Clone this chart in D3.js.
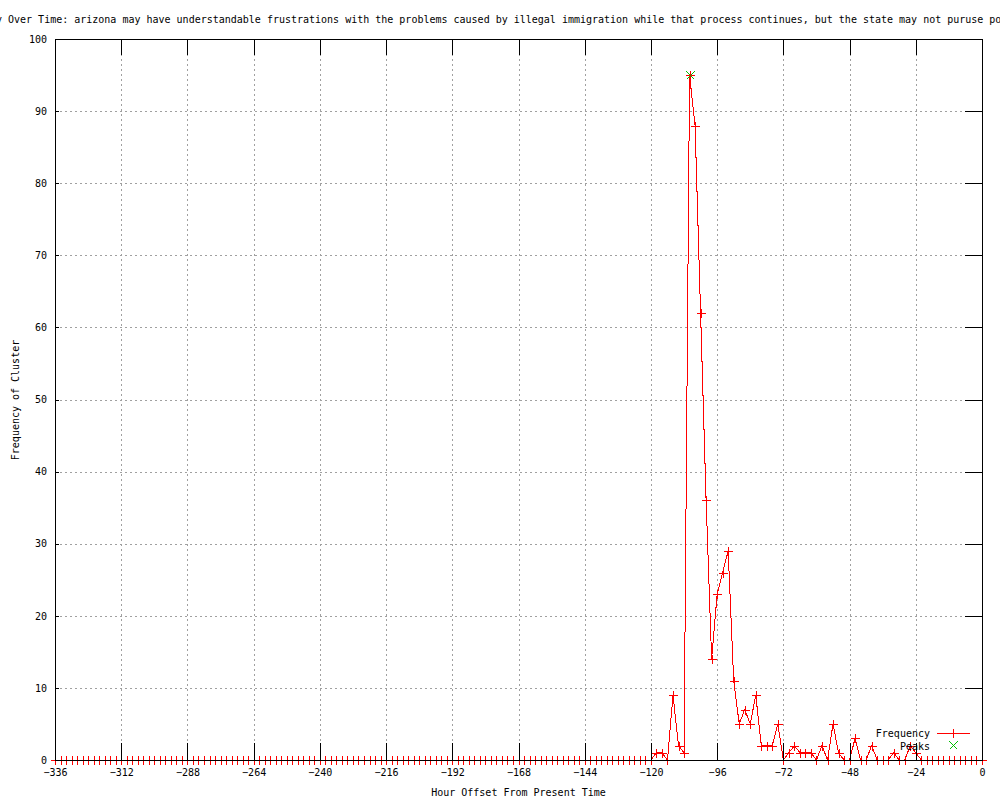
<!DOCTYPE html>
<html>
<head>
<meta charset="utf-8">
<script src="https://cdn.jsdelivr.net/npm/d3@7/dist/d3.min.js"></script>
<style>
    body { margin: 0; background: #fff; }
    #chart svg text { font-family: "DejaVu Sans Mono", monospace; font-size: 10px; fill: #000; }
    #chart svg line, #chart svg path, #chart svg rect { shape-rendering: crispEdges; }
</style>
</head>
<body>
<div id="chart"></div>
<script>
//Textos
const TITLE_PREFIX = 'Cluster Frequency ';
const TITLE = TITLE_PREFIX + 'Over Time: arizona may have understandable frustrations with the problems caused by illegal immigration while that process continues, but the state may not puruse policies that undermine federal law';
const X_LABEL = 'Hour Offset From Present Time';
const Y_LABEL = 'Frequency of Cluster';

//Datos: una muestra cada 2 horas, de -336 a 0
const hours = d3.range(-336, 1, 2);
const frequency = [
    0,0,0,0,0,0,0,0,0,0,0,0,0,0,0,0,0,0,0,0,
    0,0,0,0,0,0,0,0,0,0,0,0,0,0,0,0,0,0,0,0,
    0,0,0,0,0,0,0,0,0,0,0,0,0,0,0,0,0,0,0,0,
    0,0,0,0,0,0,0,0,0,0,0,0,0,0,0,0,0,0,0,0,
    0,0,0,0,0,0,0,0,0,0,0,0,0,0,0,0,0,0,0,0,
    0,0,0,0,0,0,0,0,0,
    1,1,0,9,2,1,95,88,62,36,14,23,26,29,11,5,7,5,9,2,
    2,2,5,0,1,2,1,1,1,0,2,0,5,1,0,0,3,0,0,2,
    0,0,0,1,0,0,2,1,
    0,0,0,0,0,0,0,0,0,0,0,0
];
const peakHours = [-106];
const peakValues = [95];

const xTicks = [-336, -312, -288, -264, -240, -216, -192, -168, -144, -120, -96, -72, -48, -24, 0];
const yTicks = [0, 10, 20, 30, 40, 50, 60, 70, 80, 90, 100];

//Colores
const COLOR_LINE = '#ff0000',
COLOR_PEAK = '#00c000',
COLOR_GRID = '#a0a0a0';

let data = hours.map(function(h, i) { return {hour: h, value: frequency[i]}; });
let peaks = peakHours.map(function(h, i) { return {hour: h, value: peakValues[i]}; });

let margin = {top: 39, right: 18, bottom: 40, left: 55},
    width = 1000 - margin.left - margin.right,
    height = 800 - margin.top - margin.bottom;

let svg = d3.select('#chart')
    .append('svg')
        .attr('width', 1000)
        .attr('height', 800)
        .style('display', 'block');

let g = svg.append('g')
    .attr('transform', 'translate(' + margin.left + ',' + margin.top + ')');

let x = d3.scaleLinear()
    .domain([-336, 0])
    .range([0, width]);

let y = d3.scaleLinear()
    .domain([0, 100])
    .range([height, 0]);

//Rejilla
g.append('g')
    .selectAll('line')
    .data(xTicks.slice(1, -1))
    .enter()
    .append('line')
    .attr('x1', function(d) { return Math.round(x(d)) + 0.5; })
    .attr('x2', function(d) { return Math.round(x(d)) + 0.5; })
    .attr('y1', 0)
    .attr('y2', height)
    .attr('stroke', COLOR_GRID)
    .attr('stroke-dasharray', '2,3');

g.append('g')
    .selectAll('line')
    .data(yTicks.slice(1, -1))
    .enter()
    .append('line')
    .attr('y1', function(d) { return Math.round(y(d)) + 0.5; })
    .attr('y2', function(d) { return Math.round(y(d)) + 0.5; })
    .attr('x1', 0)
    .attr('x2', width)
    .attr('stroke', COLOR_GRID)
    .attr('stroke-dasharray', '2,3');

//Línea de frecuencia
let line = d3.line()
    .x(function(d) { return x(d.hour); })
    .y(function(d) { return y(d.value); });

g.append('path')
    .datum(data)
    .attr('fill', 'none')
    .attr('stroke', COLOR_LINE)
    .attr('stroke-width', 1)
    .attr('d', line);

function plusPath(cx, cy) {
    return 'M' + (cx - 4.5) + ',' + cy + 'H' + (cx + 4.5) + 'M' + cx + ',' + (cy - 4.5) + 'V' + (cy + 4.5);
}
function crossPath(cx, cy) {
    return 'M' + (cx - 4) + ',' + (cy - 4) + 'L' + (cx + 4) + ',' + (cy + 4) + 'M' + (cx - 4) + ',' + (cy + 4) + 'L' + (cx + 4) + ',' + (cy - 4);
}

g.append('g')
    .selectAll('path')
    .data(data)
    .enter()
    .append('path')
    .attr('d', function(d) { return plusPath(Math.round(x(d.hour)) + 0.5, Math.round(y(d.value)) + 0.5); })
    .attr('stroke', COLOR_LINE)
    .attr('fill', 'none');

//Picos
g.append('g')
    .selectAll('path')
    .data(peaks)
    .enter()
    .append('path')
    .attr('d', function(d) { return crossPath(Math.round(x(d.hour)) + 0.5, Math.round(y(d.value)) + 0.5); })
    .attr('stroke', COLOR_PEAK)
    .attr('fill', 'none');

//Ejes
let xAxisBottom = function(sel) {
    sel.call(d3.axisBottom(x).tickValues(xTicks).tickSize(0).tickPadding(9));
    sel.call(function(g) { g.select('.domain').remove(); });
};
g.append('g')
    .attr('transform', 'translate(0,' + height + ')')
    .call(xAxisBottom);

let yAxisLeft = function(sel) {
    sel.call(d3.axisLeft(y).tickValues(yTicks).tickSize(0).tickPadding(8));
    sel.call(function(g) { g.select('.domain').remove(); });
};
g.append('g')
    .call(yAxisLeft);

//Marcas de los ejes
let tickGroup = g.append('g').attr('stroke', '#000');
tickGroup.selectAll('.xb')
    .data(xTicks.slice(1, -1))
    .enter()
    .append('line')
    .attr('x1', function(d) { return Math.round(x(d)) + 0.5; })
    .attr('x2', function(d) { return Math.round(x(d)) + 0.5; })
    .attr('y1', height)
    .attr('y2', height - 17);
tickGroup.selectAll('.xt')
    .data(xTicks.slice(1, -1))
    .enter()
    .append('line')
    .attr('x1', function(d) { return Math.round(x(d)) + 0.5; })
    .attr('x2', function(d) { return Math.round(x(d)) + 0.5; })
    .attr('y1', 0)
    .attr('y2', 16);
tickGroup.selectAll('.yl')
    .data(yTicks.slice(1, -1))
    .enter()
    .append('line')
    .attr('y1', function(d) { return Math.round(y(d)) + 0.5; })
    .attr('y2', function(d) { return Math.round(y(d)) + 0.5; })
    .attr('x1', 0)
    .attr('x2', 4);
tickGroup.selectAll('.yr')
    .data(yTicks.slice(1, -1))
    .enter()
    .append('line')
    .attr('y1', function(d) { return Math.round(y(d)) + 0.5; })
    .attr('y2', function(d) { return Math.round(y(d)) + 0.5; })
    .attr('x1', width)
    .attr('x2', width - 17);

//Borde
g.append('rect')
    .attr('x', 0.5)
    .attr('y', 0.5)
    .attr('width', Math.round(width))
    .attr('height', Math.round(height))
    .attr('fill', 'none')
    .attr('stroke', '#000');

//Leyenda
let legend = svg.append('g');
legend.append('text')
    .attr('x', 930)
    .attr('y', 737)
    .attr('text-anchor', 'end')
    .text('Frequency');
legend.append('path')
    .attr('d', 'M937,733.5H970')
    .attr('fill', 'none')
    .attr('stroke', COLOR_LINE);
legend.append('path')
    .attr('d', plusPath(953.5, 733.5))
    .attr('fill', 'none')
    .attr('stroke', COLOR_LINE);
legend.append('text')
    .attr('x', 930)
    .attr('y', 750)
    .attr('text-anchor', 'end')
    .text('Peaks');
legend.append('path')
    .attr('d', crossPath(953.5, 745.5))
    .attr('fill', 'none')
    .attr('stroke', COLOR_PEAK);

//Títulos
svg.append('text')
    .attr('x', 8 - TITLE_PREFIX.length * 6.02)
    .attr('y', 23)
    .text(TITLE);

svg.append('text')
    .attr('x', margin.left + width / 2)
    .attr('y', 796)
    .attr('text-anchor', 'middle')
    .text(X_LABEL);

svg.append('text')
    .attr('transform', 'translate(19,400) rotate(-90)')
    .attr('text-anchor', 'middle')
    .text(Y_LABEL);
</script>
</body>
</html>
